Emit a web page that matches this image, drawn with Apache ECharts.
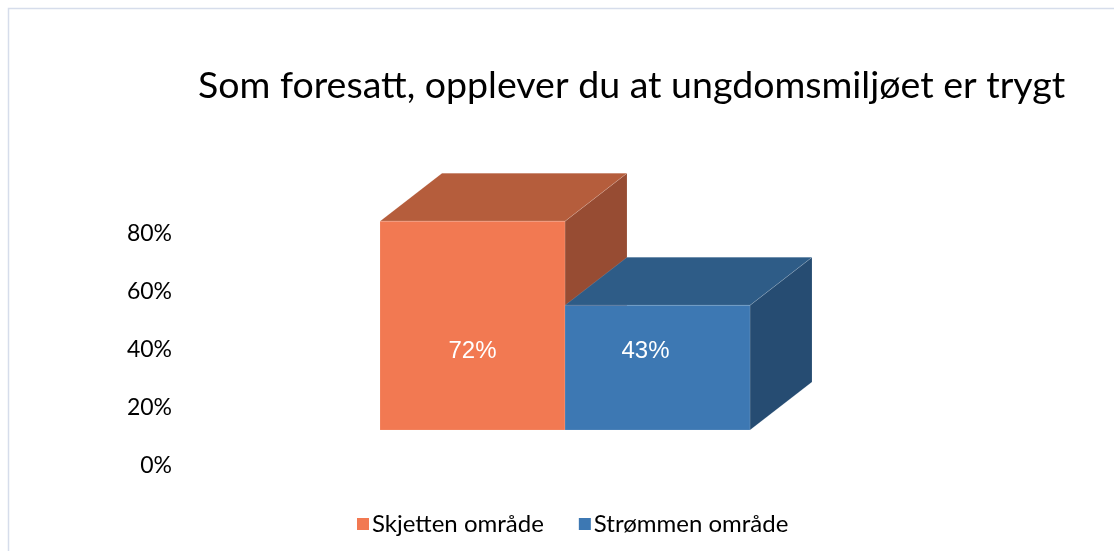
<!DOCTYPE html>
<html>
<head>
<meta charset="utf-8">
<script src="https://cdn.jsdelivr.net/npm/echarts@6/dist/echarts.min.js"></script>
<style>
	html, body { margin: 0; padding: 0; background: #fff; }
	#chart { width: 1114px; height: 551px; }
</style>
</head>
<body>
<div id="chart"></div>
<script>
var titleText = 'Som foresatt, opplever du at ungdomsmiljøet er trygt';
var categories = ['Skjetten område', 'Strømmen område'];
var values = [72, 43];
var yTicks = [0, 20, 40, 60, 80];

// farger: front, topp, side
var faceColors = [
	['#F27952', '#B55D3C', '#974C33'],
	['#3D78B3', '#2E5C87', '#264C72']
];
var labelShift = [0, -12];

var depthX = 62;   // 3d dybde
var depthY = -48;
var lift = -36;    // frontflaten ligger over aksen

var chart = echarts.init(document.getElementById('chart'));

/**
 * tegner en 3d-stolpe
 */
var makeRenderItem = function (colors, shift) {
	return function (params, api) {
		var cat = api.value(0);
		var base = api.coord([cat, 0]);
		var top = api.coord([cat, api.value(1)]);
		var band = api.size([1, 0])[0];
		var x0 = base[0] - band / 2;
		var x1 = base[0] + band / 2;
		var yb = base[1] + lift;
		var yt = top[1] + lift;
		var stroke = 'rgba(255,255,255,0.25)';
		return {
			type: 'group',
			children: [
				{
					type: 'polygon',
					shape: { points: [[x1, yt], [x1 + depthX, yt + depthY], [x1 + depthX, yb + depthY], [x1, yb]] },
					style: { fill: colors[2], stroke: stroke, lineWidth: 0.5 }
				},
				{
					type: 'polygon',
					shape: { points: [[x0, yt], [x0 + depthX, yt + depthY], [x1 + depthX, yt + depthY], [x1, yt]] },
					style: { fill: colors[1], stroke: stroke, lineWidth: 0.5 }
				},
				{
					type: 'rect',
					shape: { x: x0, y: yt, width: x1 - x0, height: yb - yt },
					style: { fill: colors[0], stroke: stroke, lineWidth: 0.5 }
				},
				{
					type: 'text',
					x: base[0] + shift,
					y: yb - 79,
					style: {
						text: api.value(1) + '%',
						fill: '#fff',
						font: '24px "Liberation Sans", Arial, sans-serif',
						align: 'center',
						verticalAlign: 'middle'
					}
				}
			]
		};
	};
};

var series = [];
for (var i = 0; i < categories.length; i++) {
	series.push({
		name: categories[i],
		type: 'custom',
		renderItem: makeRenderItem(faceColors[i], labelShift[i]),
		itemStyle: { color: faceColors[i][0] },
		data: [[i, values[i]]],
		z: 2 + i
	});
}

chart.setOption({
	animation: false,
	title: {
		text: titleText,
		left: 193,
		top: 62,
		textStyle: {
			fontFamily: 'Lato',
			fontSize: 37.5,
			fontWeight: 'normal',
			color: '#000'
		}
	},
	legend: {
		data: categories,
		left: 352,
		top: 507,
		icon: 'rect',
		itemWidth: 12,
		itemHeight: 12,
		itemGap: 35,
		textStyle: {
			fontFamily: 'Lato',
			fontSize: 24,
			color: '#000',
			padding: [0, 0, 0, -2]
		}
	},
	grid: {
		left: 380,
		width: 370,
		top: 234,
		height: 232
	},
	xAxis: {
		type: 'category',
		data: categories,
		axisLine: { show: false },
		axisTick: { show: false },
		axisLabel: { show: false },
		splitLine: { show: false }
	},
	yAxis: {
		type: 'value',
		min: yTicks[0],
		max: yTicks[yTicks.length - 1],
		interval: 20,
		axisLine: { show: false },
		axisTick: { show: false },
		splitLine: { show: false },
		axisLabel: {
			margin: 208,
			fontFamily: 'Lato',
			fontSize: 23,
			color: '#000',
			formatter: '{value}%'
		}
	},
	graphic: [
		{
			type: 'rect',
			shape: { x: 8.5, y: 8.5, width: 1200, height: 700 },
			style: { fill: 'none', stroke: '#D6DDEB', lineWidth: 1.5 },
			silent: true
		}
	],
	series: series
});
</script>
</body>
</html>
